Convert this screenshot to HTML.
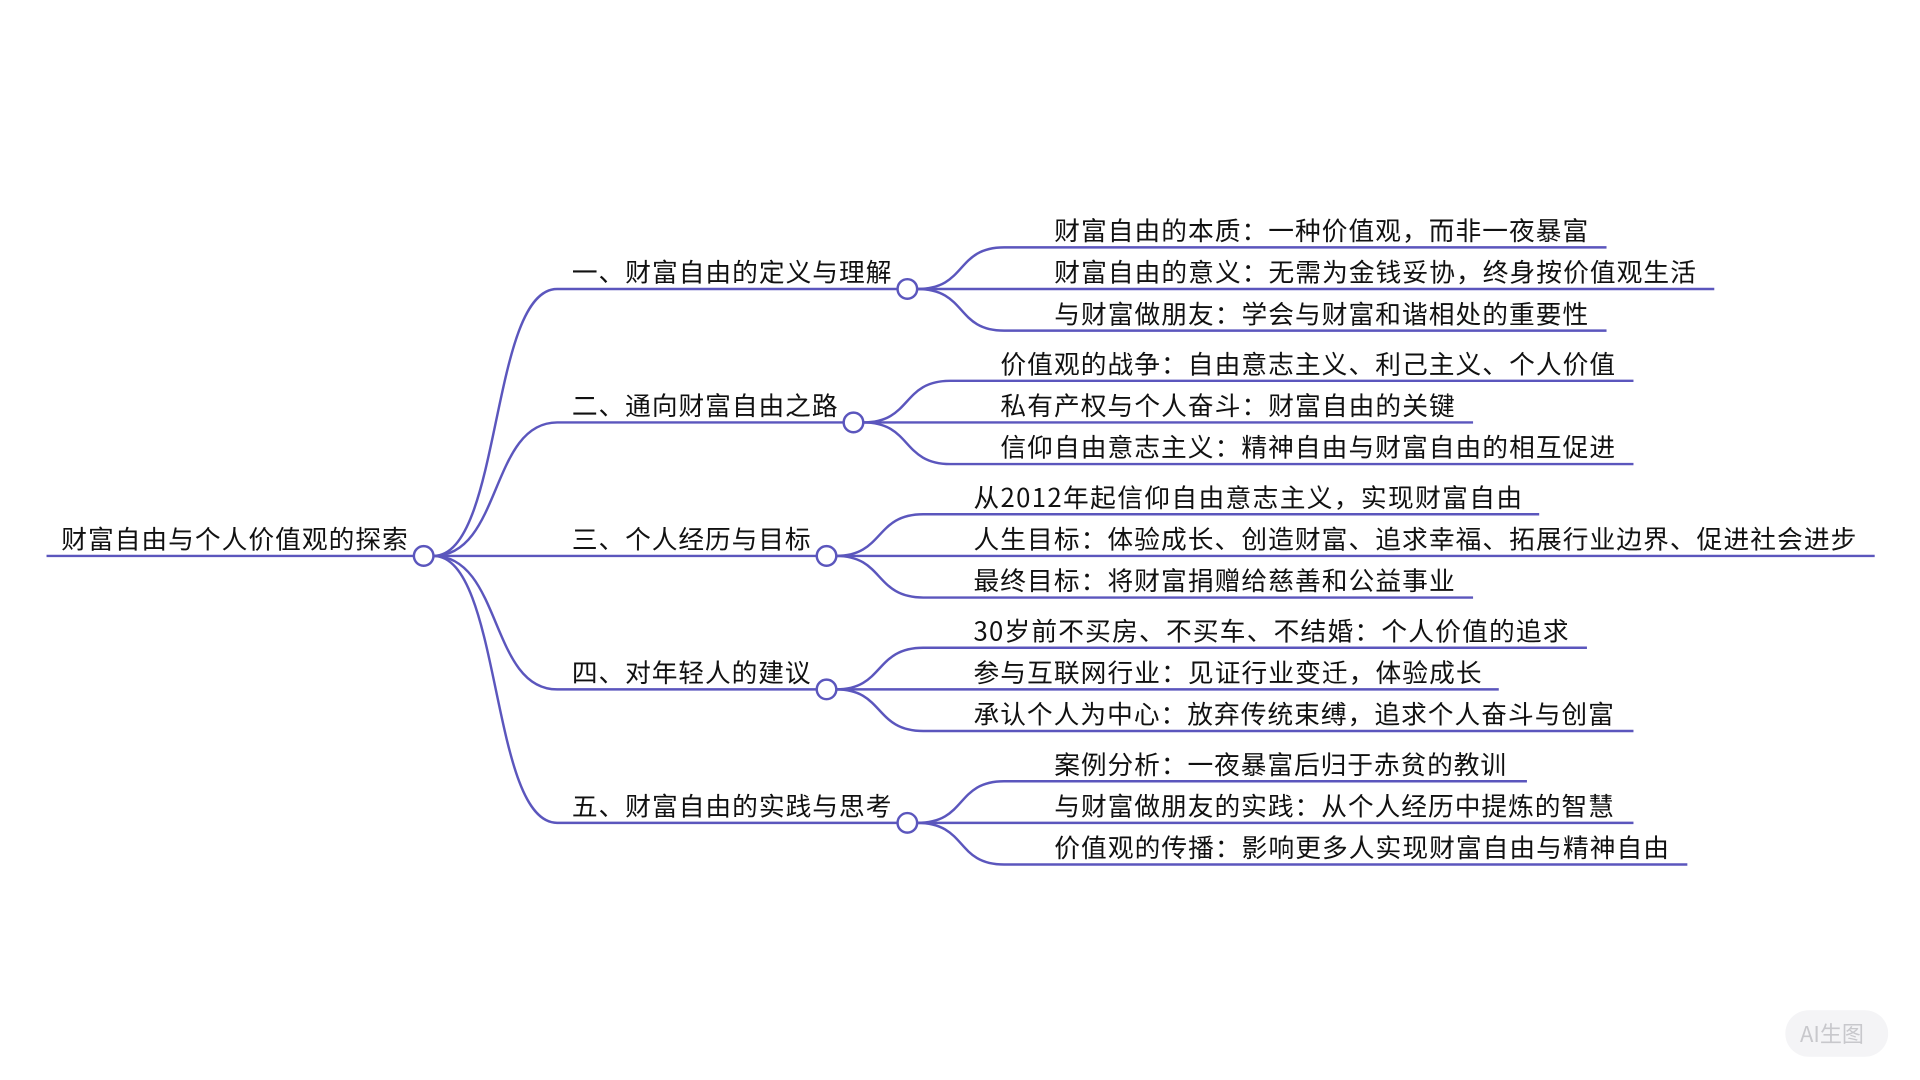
<!DOCTYPE html>
<html><head><meta charset="utf-8"><style>html,body{margin:0;padding:0;background:#fff;overflow:hidden}svg{display:block}</style></head><body>
<svg width="1920" height="1080" viewBox="0 0 1568 882" preserveAspectRatio="none" xmlns="http://www.w3.org/2000/svg" font-family="'Noto Sans CJK SC','WenQuanYi Zen Hei',sans-serif" font-size="21">
<g fill="none" stroke="#5b56bd" stroke-width="2">
<line x1="38" y1="454" x2="338" y2="454"/>
<path d="M354 454 C410 454 400 236 455 236 L733 236"/>
<path d="M354 454 C410 454 400 345 455 345 L689 345"/>
<path d="M354 454 L667 454"/>
<path d="M354 454 C410 454 400 563 455 563 L667 563"/>
<path d="M354 454 C410 454 400 672 455 672 L733 672"/>
<path d="M749 236 C790 236 780 202 820 202 L1312 202"/>
<path d="M749 236 L1400 236"/>
<path d="M749 236 C790 236 780 270 820 270 L1312 270"/>
<path d="M705 345 C745 345 736 311 776 311 L1334 311"/>
<path d="M705 345 L1203 345"/>
<path d="M705 345 C745 345 736 379 776 379 L1334 379"/>
<path d="M683 454 C722 454 714 420 754 420 L1257 420"/>
<path d="M683 454 L1531 454"/>
<path d="M683 454 C722 454 714 488 754 488 L1203 488"/>
<path d="M683 563 C722 563 714 529 754 529 L1296 529"/>
<path d="M683 563 L1224 563"/>
<path d="M683 563 C722 563 714 597 754 597 L1334 597"/>
<path d="M749 672 C790 672 780 638 820 638 L1247 638"/>
<path d="M749 672 L1334 672"/>
<path d="M749 672 C790 672 780 706 820 706 L1378 706"/>
</g>
<g fill="#fff" stroke="#5b56bd" stroke-width="2">
<circle cx="346" cy="454" r="8"/><circle cx="741" cy="236" r="8"/><circle cx="697" cy="345" r="8"/><circle cx="675" cy="454" r="8"/><circle cx="675" cy="563" r="8"/><circle cx="741" cy="672" r="8"/>
</g>
<g fill="#111" lengthAdjust="spacing">
<text x="50" y="448" textLength="283">财富自由与个人价值观的探索</text>
<text x="467" y="230" textLength="261">一、财富自由的定义与理解</text>
<text x="467" y="339" textLength="217">二、通向财富自由之路</text>
<text x="467" y="448" textLength="195">三、个人经历与目标</text>
<text x="467" y="557" textLength="195">四、对年轻人的建议</text>
<text x="467" y="666" textLength="261">五、财富自由的实践与思考</text>
<text x="861" y="196" textLength="436">财富自由的本质：一种价值观，而非一夜暴富</text>
<text x="861" y="230" textLength="524">财富自由的意义：无需为金钱妥协，终身按价值观生活</text>
<text x="861" y="264" textLength="436">与财富做朋友：学会与财富和谐相处的重要性</text>
<text x="817" y="305" textLength="502">价值观的战争：自由意志主义、利己主义、个人价值</text>
<text x="817" y="339" textLength="371">私有产权与个人奋斗：财富自由的关键</text>
<text x="817" y="373" textLength="502">信仰自由意志主义：精神自由与财富自由的相互促进</text>
<text x="795" y="414" textLength="448">从2012年起信仰自由意志主义，实现财富自由</text>
<text x="795" y="448" textLength="721">人生目标：体验成长、创造财富、追求幸福、拓展行业边界、促进社会进步</text>
<text x="795" y="482" textLength="393">最终目标：将财富捐赠给慈善和公益事业</text>
<text x="795" y="523" textLength="486">30岁前不买房、不买车、不结婚：个人价值的追求</text>
<text x="795" y="557" textLength="415">参与互联网行业：见证行业变迁，体验成长</text>
<text x="795" y="591" textLength="523">承认个人为中心：放弃传统束缚，追求个人奋斗与创富</text>
<text x="861" y="632" textLength="369">案例分析：一夜暴富后归于赤贫的教训</text>
<text x="861" y="666" textLength="457">与财富做朋友的实践：从个人经历中提炼的智慧</text>
<text x="861" y="700" textLength="502">价值观的传播：影响更多人实现财富自由与精神自由</text>
</g>
<rect x="1458" y="825" width="84" height="38" rx="19" fill="#f4f4f6"/>
<text x="1470" y="851" font-size="18" fill="#c8c8cc">AI生图</text>
</svg>
</body></html>
